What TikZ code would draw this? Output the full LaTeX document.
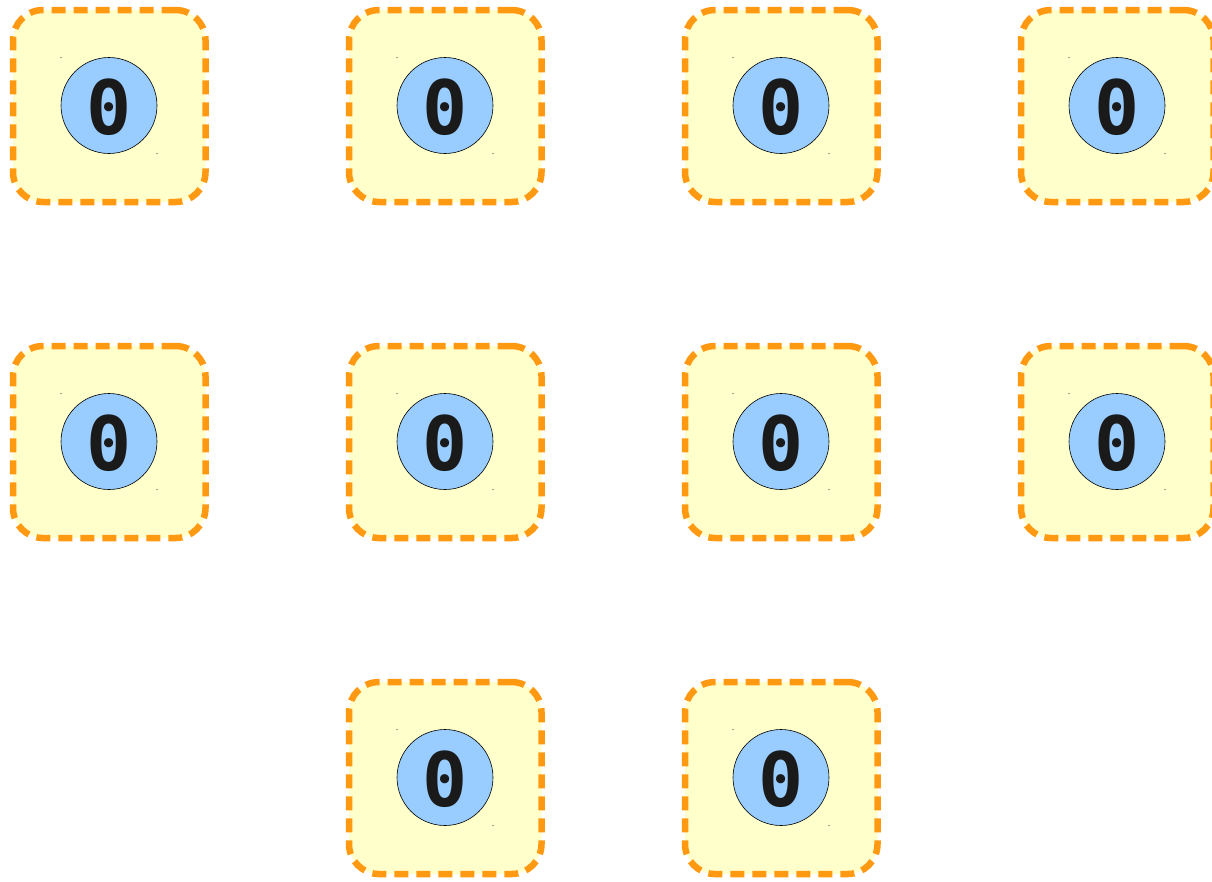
\documentclass[tikz,border=0pt]{standalone}
\usepackage{fontspec}
\newfontfamily\digitfont{DejaVu Sans Mono}
\definecolor{tilefill}{HTML}{FFFFCC}
\definecolor{tileline}{HTML}{FF9912}
\definecolor{discfill}{HTML}{99CCFF}
\definecolor{digitcol}{HTML}{1A1A1A}
\begin{document}
\begin{tikzpicture}[x=1pt,y=-1pt,
  tilebox/.style={draw=tileline,fill=tilefill,line width=6.5pt,dash pattern=on 14pt off 8pt,
    rounded corners=30pt,minimum width=192.5pt,minimum height=192pt,inner sep=0pt},
  disc/.style={circle,draw=black,line width=0.6pt,fill=discfill,minimum size=96pt,inner sep=0pt},
  digit/.style={inner sep=0pt,font=\digitfont\bfseries\fontsize{75}{75}\selectfont,text=digitcol},
  speck/.style={fill=black!70,circle,inner sep=0pt,minimum size=1.2pt}]
\useasboundingbox (0,0) rectangle (1212,881);
\foreach \r/\c/\n in {0/0/a,0/1/b,0/2/c,0/3/d,1/0/e,1/1/f,1/2/g,1/3/h,2/1/i,2/2/j}{
  \node[tilebox] (t\n) at (109.25+336*\c,106+336*\r) {};
  \node[disc] (d\n) at (109+336*\c,105.5+336*\r) {};
  \node[digit] (z\n) at ([yshift=-2pt]d\n.center) {0};
  \node[speck] (s\n1) at ([xshift=-48pt,yshift=48pt]d\n.center) {};
  \node[speck] (s\n2) at ([xshift=48pt,yshift=-48pt]d\n.center) {};
}
\end{tikzpicture}
\end{document}
